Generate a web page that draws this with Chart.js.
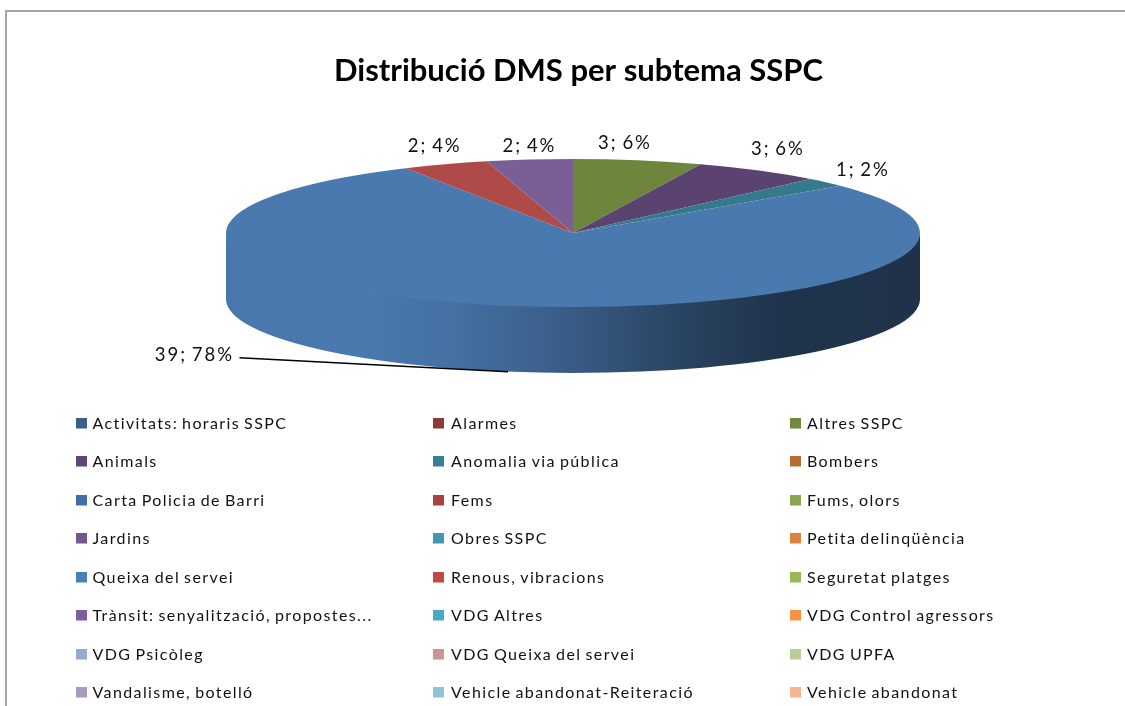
<!DOCTYPE html>
<html><head><meta charset="utf-8">
<script src="https://cdn.jsdelivr.net/npm/chart.js@4/dist/chart.umd.min.js"></script>
<style>
html,body{margin:0;padding:0;background:#fff;width:1125px;height:706px;overflow:hidden}
#frame{position:absolute;left:5px;top:10px;right:-2px;bottom:-2px;border:2px solid #a4a4a4}
canvas{position:absolute;left:0;top:0}
</style></head><body>
<div id="frame"></div>
<canvas id="c" width="1125" height="706"></canvas>
<script>
const titleText = "Distribució DMS per subtema SSPC";
const categories = ["Activitats: horaris SSPC","Alarmes","Altres SSPC","Animals","Anomalia via pública","Bombers","Carta Policia de Barri","Fems","Fums, olors","Jardins","Obres SSPC","Petita delinqüència","Queixa del servei","Renous, vibracions","Seguretat platges","Trànsit: senyalització, propostes...","VDG Altres","VDG Control agressors","VDG Psicòleg","VDG Queixa del servei","VDG UPFA","Vandalisme, botelló","Vehicle abandonat-Reiteració","Vehicle abandonat"];
const values = [0,0,3,3,1,0,0,0,0,0,0,0,39,2,0,2,0,0,0,0,0,0,0,0];
const legendColors = ["#3A5F8D","#8D3936","#71893F","#5C4776","#35819A","#B66D31","#426DA9","#A9423F","#89A54E","#71588F","#4198AF","#DB843D","#4A7EBB","#BE4B48","#98B954","#7D5FA0","#46AAC4","#F69240","#94A9D0","#D09392","#B9CD96","#A99BBD","#92C3D4","#F9B590"];
const sliceColors = legendColors.slice();
sliceColors[2]="#6E853D"; sliceColors[3]="#5A4370"; sliceColors[4]="#35798C"; sliceColors[12]="#4A79AF"; sliceColors[13]="#AE4B48"; sliceColors[15]="#7A5E96";
const labelOffsets = {2:[-13,-17],3:[19,-21.5],4:[37,-12],12:[-313.5,-17],13:[-10.5,-18],15:[0,-14]};

const FLAT = 0.2133, DEPTH = 66, RX = 347;
const shade = [[0,.985],[.2,1],[.33,.93],[.5,.76],[.65,.57],[.8,.43],[1,.42]];
function mul(hex,f){const n=parseInt(hex.slice(1),16);return `rgb(${(n>>16)*f|0},${((n>>8)&255)*f|0},${(n&255)*f|0})`;}

const pie3d = {
  id:'pie3d',
  afterLayout(chart){ chart.titleBlock.left += 5.5; chart.titleBlock.right += 5.5; },
  beforeDatasetDraw(chart,args){
    const ctx=chart.ctx, meta=args.meta;
    const first=meta.data[0], x=first.x, y=first.y, ry=first.outerRadius*FLAT, rx=first.outerRadius;
    meta.data.forEach((arc,i)=>{
      const a=Math.max(arc.startAngle,0), b=Math.min(arc.endAngle,Math.PI);
      if(b<=a||values[i]===0) return;
      const g=ctx.createLinearGradient(x-rx,0,x+rx,0);
      shade.forEach(s=>g.addColorStop(s[0],mul(sliceColors[i],s[1])));
      ctx.save(); ctx.fillStyle=g; ctx.beginPath();
      ctx.ellipse(x,y-2,rx,ry,0,a,b);
      ctx.ellipse(x,y+DEPTH,rx,ry,0,b,a,true);
      ctx.closePath(); ctx.fill(); ctx.restore();
    });
    ctx.save();
    ctx.translate(x,y); ctx.scale(1,FLAT); ctx.translate(-x,-y);
    meta.controller.draw();
    ctx.restore();
    return false;
  },
  afterDraw(chart){
    const ctx=chart.ctx, meta=chart.getDatasetMeta(0), total=values.reduce((p,c)=>p+c,0);
    ctx.save();
    ctx.fillStyle="#111"; ctx.textBaseline="middle"; ctx.textAlign="center";
    ctx.font="18.5px Lato"; ctx.letterSpacing="2px"; ctx.wordSpacing="-2px";
    meta.data.forEach((arc,i)=>{
      if(!values[i]) return;
      const m=(arc.startAngle+arc.endAngle)/2, r=arc.outerRadius;
      const bottom=Math.sin(m)>0;
      const ax=arc.x+r*Math.cos(m), ay=arc.y+r*FLAT*Math.sin(m)+(bottom?DEPTH:0);
      const o=labelOffsets[i];
      const lx=ax+o[0], ly=ay+o[1];
      ctx.fillText(values[i]+"; "+Math.round(values[i]/total*100)+"%",lx,ly);
      if(bottom){
        ctx.strokeStyle="#000"; ctx.lineWidth=1.4; ctx.beginPath();
        ctx.moveTo(lx+45,ly+3); ctx.lineTo(ax,ay); ctx.stroke();
      }
    });
    ctx.textAlign="left"; ctx.font="16px Lato"; ctx.letterSpacing="1.4px"; ctx.wordSpacing="-1.5px";
    const colX=[76,433,790], gap=[16.5,18,17], rowY=[423,461,500,538,577,615,654,692];
    categories.forEach((c,i)=>{
      const cx=colX[i%3], cy=rowY[Math.floor(i/3)];
      ctx.fillStyle=legendColors[i]; ctx.fillRect(cx,cy-5,11,10.5);
      ctx.fillStyle="#111"; ctx.fillText(c,cx+gap[i%3],cy+0.5);
    });
    ctx.restore();
  }
};

new Chart(document.getElementById('c'),{
  type:'pie',
  data:{labels:categories,datasets:[{data:values,backgroundColor:sliceColors,borderWidth:0,radius:RX}]},
  options:{
    responsive:false,animation:false,
    layout:{padding:{left:21,right:0,top:0,bottom:329.2}},
    plugins:{
      legend:{display:false},tooltip:{enabled:false},
      title:{display:true,text:titleText,color:"#000",font:{family:"Lato",size:31,weight:"bold"},padding:{top:52,bottom:0}}
    }
  },
  plugins:[pie3d]
});
</script>
</body></html>
